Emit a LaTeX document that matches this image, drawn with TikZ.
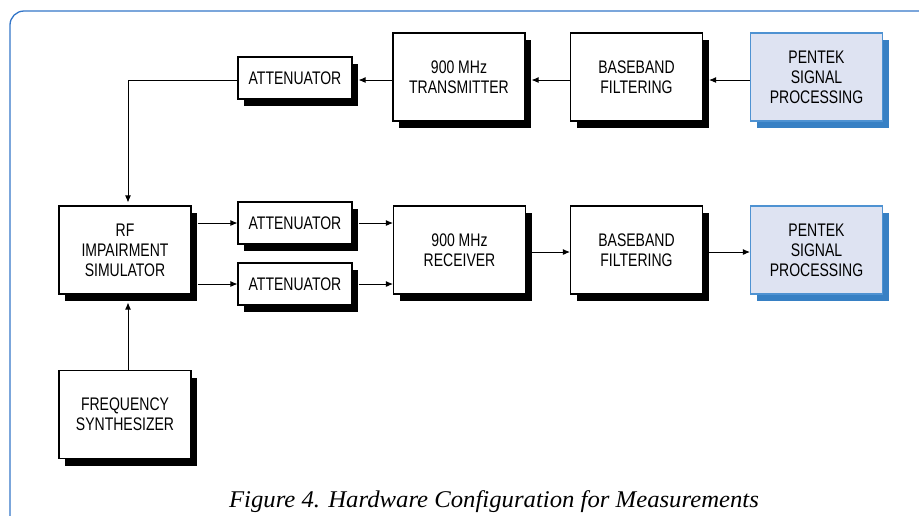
\documentclass[tikz,border=0pt]{standalone}
\usepackage{fontspec}
\setmainfont{Liberation Sans}
\newfontfamily\boxfont{Liberation Sans}[FakeStretch=0.77]
\newfontfamily\capfont{Liberation Serif}[FakeStretch=1.03]
\usepackage{tikz}
\usetikzlibrary{arrows.meta,shadows}
\definecolor{framecol}{RGB}{52,118,200}
\definecolor{pkfill}{RGB}{222,227,242}
\definecolor{pkline}{RGB}{78,146,210}
\definecolor{pkshade}{RGB}{55,128,196}

\begin{document}
\begin{tikzpicture}[x=1pt, y=-1pt]
        \clip (0,0) rectangle (919,515);
        \draw[framecol, line width=1.3pt, rounded corners=14pt] (10,11) rectangle (960,560);
        \tikzset{blk/.style={draw, line width=1.1pt, fill=white, align=center, inner sep=0pt,
            font=\boxfont\fontsize{18.2}{20}\selectfont,
            general shadow={shadow xshift=6pt, shadow yshift=-7pt, fill=black}}}
        \tikzset{pk/.style={blk, fill=pkfill, draw=pkline,
            general shadow={shadow xshift=6pt, shadow yshift=-7pt, fill=pkshade}}}
        \tikzset{big/.style={minimum width=132pt, minimum height=88pt}}
        \tikzset{att/.style={minimum width=114pt, minimum height=42pt}}
        \tikzset{arr/.style={-{Latex[length=7pt,width=6pt]}, line width=0.9pt}}
        % top level
        \node[blk, att] (att1) at (295,78) {ATTENUATOR};
        \node[blk, big] (tx) at (459,77) {900 MHz\\TRANSMITTER};
        \node[blk, big] (bb1) at (636.5,77) {BASEBAND\\FILTERING};
        \node[pk, big] (pk1) at (816.5,77) {PENTEK\\SIGNAL\\PROCESSING};
        % lower level
        \node[blk, big] (rf) at (125,250) {RF\\IMPAIRMENT\\SIMULATOR};
        \node[blk, att] (att2) at (295,223) {ATTENUATOR};
        \node[blk, att] (att3) at (295,284) {ATTENUATOR};
        \node[blk, big] (rx) at (459.5,250) {900 MHz\\RECEIVER};
        \node[blk, big] (bb2) at (636.5,250) {BASEBAND\\FILTERING};
        \node[pk, big] (pk2) at (816.5,250) {PENTEK\\SIGNAL\\PROCESSING};
        \node[blk, big] (fs) at (125,414.5) {FREQUENCY\\SYNTHESIZER};
        \node[font=\capfont\itshape\fontsize{24}{26}\selectfont, anchor=base] (cap) at (494,507)
            {Figure 4. Hardware Configuration for Measurements};
        \draw[arr] ([yshift=-3pt]pk1.west) -- ([xshift=6pt,yshift=-3pt]bb1.east);
        \draw[arr] ([yshift=-3pt]bb1.west) -- ([xshift=6pt,yshift=-3pt]tx.east);
        \draw[arr] ([yshift=-3pt]tx.west) -- ([xshift=6pt,yshift=-2pt]att1.east);
        \draw[arr] ([yshift=-2pt]att1.west) -| ([xshift=3pt,yshift=3pt]rf.north);
        \draw[arr] ([xshift=6pt]rf.east |- att2) -- (att2.west);
        \draw[arr] ([xshift=6pt]rf.east |- att3) -- (att3.west);
        \draw[arr] ([xshift=6pt]att2.east) -- (att2 -| rx.west);
        \draw[arr] ([xshift=6pt]att3.east) -- (att3 -| rx.west);
        \draw[arr] ([xshift=6pt,yshift=-2pt]rx.east) -- ([yshift=-2pt]bb2.west);
        \draw[arr] ([xshift=6pt,yshift=-2pt]bb2.east) -- ([yshift=-2pt]pk2.west);
        \draw[arr] ([xshift=3pt]fs.north) -- ([xshift=3pt,yshift=-8pt]rf.south);
      \end{tikzpicture}
\end{document}
